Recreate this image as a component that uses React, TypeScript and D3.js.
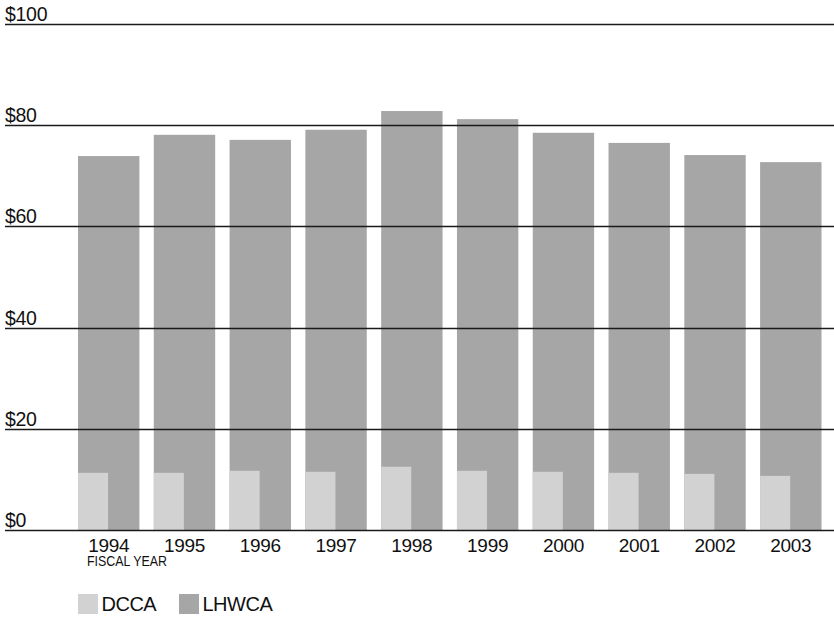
import React from "react";
import * as d3 from "d3";

const years = ["1994", "1995", "1996", "1997", "1998", "1999", "2000", "2001", "2002", "2003"];
const lhwca = [73.9, 78.1, 77.1, 79.1, 82.8, 81.2, 78.5, 76.5, 74.1, 72.7];
const dcca = [11.3, 11.3, 11.7, 11.5, 12.5, 11.7, 11.5, 11.3, 11.1, 10.7];
const yTicks = [0, 20, 40, 60, 80, 100];
const seriesNames = ["DCCA", "LHWCA"];
const xAxisTitle = "FISCAL YEAR";

const W = 834;
const H = 618;
const FONT = "'Liberation Sans', Arial, Helvetica, sans-serif";
const C_LIGHT = "#d2d2d2";
const C_DARK = "#a6a6a6";

export default function App() {
  const x = d3.scaleBand<string>().domain(years).range([78, 821.5]).paddingInner(0.19).paddingOuter(0);
  const y = d3.scaleLinear().domain([0, 100]).range([530, 24]);
  const bw = x.bandwidth();
  const fmt = (v: number) => `$${v}`;

  return (
    <svg width={W} height={H} style={{ position: "absolute", left: 0, top: 0, background: "#fff" }} fontFamily={FONT}>
      {years.map((yr, i) => (
        <rect key={"l" + yr} x={x(yr)} y={y(lhwca[i])} width={bw} height={y(0) - y(lhwca[i])} fill={C_DARK} />
      ))}
      {years.map((yr, i) => (
        <rect key={"d" + yr} x={x(yr)} y={y(dcca[i])} width={bw * 0.49} height={y(0) - y(dcca[i])} fill={C_LIGHT} />
      ))}
      {yTicks.map((t) => (
        <g key={t}>
          <line x1={5} x2={W} y1={Math.round(y(t)) + 0.5} y2={Math.round(y(t)) + 0.5} stroke="#1a1a1a" strokeWidth={1.3} />
          <text x={5} y={y(t) - 3} fontSize={19.5} fill="#111" letterSpacing={-0.3}>
            {fmt(t)}
          </text>
        </g>
      ))}
      {years.map((yr) => (
        <text key={"t" + yr} x={(x(yr) as number) + bw / 2} y={551.5} fontSize={19} textAnchor="middle" fill="#111" letterSpacing={-0.3}>
          {yr}
        </text>
      ))}
      <text x={87} y={566} fontSize={15.5} fill="#111" textLength={80} lengthAdjust="spacingAndGlyphs">
        {xAxisTitle}
      </text>
      <rect x={78} y={594} width={20} height={20} fill={C_LIGHT} />
      <text x={101.5} y={611} fontSize={20} fill="#111" letterSpacing={-0.5}>
        {seriesNames[0]}
      </text>
      <rect x={179} y={594} width={20} height={20} fill={C_DARK} />
      <text x={202.5} y={611} fontSize={20} fill="#111" letterSpacing={-0.5}>
        {seriesNames[1]}
      </text>
    </svg>
  );
}
